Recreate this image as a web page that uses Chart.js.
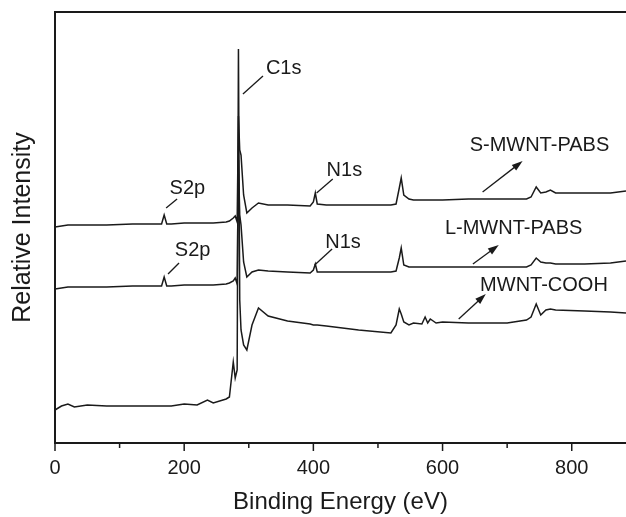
<!DOCTYPE html>
<html>
<head>
<meta charset="utf-8">
<title>XPS survey spectra</title>
<script src="https://cdn.jsdelivr.net/npm/chart.js@4.4.0/dist/chart.umd.min.js"></script>
<style>
  html, body { margin: 0; padding: 0; background: #fff; }
  canvas { display: block; }
</style>
</head>
<body>
<canvas id="xpsChart" width="626" height="517"></canvas>
<script>
// binding energy grid (eV) shared by the three spectra
const energies = [0, 10, 20, 30, 50, 80, 120, 160, 165, 169, 173, 180, 200, 220, 236, 245, 265, 270, 276, 279, 282,
  284, 286, 288, 292, 297, 305, 315, 330, 360, 395, 400, 403, 406, 420, 470, 520, 528, 533, 536, 540,
  548, 555, 568, 573, 577, 581, 590, 600, 640, 700, 730, 737, 745, 752, 760, 767, 775, 820, 860, 884];

// relative intensity (arbitrary units, curves already offset as in the figure)
const sMwntPabs = [229, 230, 231, 231, 231, 231, 232, 232, 232, 241, 232, 232, 233, 233, 233, 233, 234, 235, 238, 240, 234,
  340, 306, 301, 261, 243, 248, 253, 251, 251, 250, 254, 263, 252, 251, 251, 251, 252, 268, 278, 261,
  257, 256, 256, 256, 256, 256, 256, 256, 257, 257, 257, 259, 269, 263, 264, 266, 263, 263, 263, 265];

const lMwntPabs = [167, 168, 169, 169, 169, 169, 170, 170, 170, 179, 170, 170, 171, 171, 171, 171, 172, 173, 175, 178, 172,
  296, 241, 231, 194, 179, 184, 186, 185, 184, 183, 186, 192, 184, 184, 184, 184, 185, 198, 208, 191,
  189, 189, 189, 189, 189, 189, 189, 189, 189, 189, 189, 191, 198, 194, 193, 193, 192, 192, 193, 195];

const mwntCooh = [46, 50, 52, 49, 51, 50, 50, 50, 50, 50, 50, 50, 52, 51, 56, 53, 57, 59, 94, 78, 86,
  407, 156, 126, 111, 106, 131, 148, 140, 135, 132, 131, 131, 131, 130, 126, 123, 131, 147, 142, 134,
  131, 133, 132, 139, 133, 137, 133, 134, 133, 133, 136, 139, 152, 141, 146, 147, 146, 145, 144, 143];

const majorTicks = [0, 200, 400, 600, 800];
const minorTicks = [100, 300, 500, 700];

// peak labels: text centre and leader line, in data units
const peakLabels = [
  { text: 'C1s', at: [354, 388], from: [291, 362], to: [322, 380] },
  { text: 'S2p', at: [205, 268], from: [172, 248], to: [189, 257] },
  { text: 'S2p', at: [213, 206], from: [175, 182], to: [192, 193] },
  { text: 'N1s', at: [448, 286], from: [405, 263], to: [430, 277] },
  { text: 'N1s', at: [446, 214], from: [402, 191], to: [429, 207] }
];

// sample names with arrows pointing at them
const sampleLabels = [
  { text: 'S-MWNT-PABS', at: [750, 311], from: [662, 264], to: [724, 295] },
  { text: 'L-MWNT-PABS', at: [710, 228], from: [647, 192], to: [687, 211] },
  { text: 'MWNT-COOH', at: [757, 171], from: [625, 137], to: [667, 162] }
];

const ink = '#1a1a1a';
const fontFamily = '"Liberation Sans", Arial, Helvetica, sans-serif';

function toPoints(values) {
  return energies.map((e, i) => ({ x: e, y: values[i] }));
}

function lineSet(label, values) {
  return {
    label: label,
    data: toPoints(values),
    borderColor: ink,
    borderWidth: 1.5,
    pointRadius: 0,
    tension: 0,
    fill: false
  };
}

const decorPlugin = {
  id: 'decor',
  afterDraw(chart) {
    const { ctx, chartArea } = chart;
    const xs = chart.scales.x;
    const ys = chart.scales.y;
    const px = v => xs.getPixelForValue(v);
    const py = v => ys.getPixelForValue(v);

    ctx.save();
    ctx.strokeStyle = ink;
    ctx.fillStyle = ink;

    // top frame line (no right border, the figure is cut there)
    ctx.lineWidth = 2;
    ctx.beginPath();
    ctx.moveTo(chartArea.left - 1, chartArea.top);
    ctx.lineTo(chartArea.right, chartArea.top);
    ctx.stroke();

    // outward ticks on the energy axis
    ctx.lineWidth = 1.5;
    majorTicks.forEach(v => {
      ctx.beginPath();
      ctx.moveTo(px(v), chartArea.bottom);
      ctx.lineTo(px(v), chartArea.bottom + 8);
      ctx.stroke();
    });
    minorTicks.forEach(v => {
      ctx.beginPath();
      ctx.moveTo(px(v), chartArea.bottom);
      ctx.lineTo(px(v), chartArea.bottom + 5);
      ctx.stroke();
    });

    ctx.font = '20px ' + fontFamily;
    ctx.textAlign = 'center';
    ctx.textBaseline = 'middle';
    ctx.lineWidth = 1.3;

    peakLabels.forEach(l => {
      ctx.fillText(l.text, px(l.at[0]), py(l.at[1]));
      ctx.beginPath();
      ctx.moveTo(px(l.from[0]), py(l.from[1]));
      ctx.lineTo(px(l.to[0]), py(l.to[1]));
      ctx.stroke();
    });

    sampleLabels.forEach(l => {
      ctx.fillText(l.text, px(l.at[0]), py(l.at[1]));
      const x0 = px(l.from[0]), y0 = py(l.from[1]);
      const x1 = px(l.to[0]), y1 = py(l.to[1]);
      const ang = Math.atan2(y1 - y0, x1 - x0);
      const head = 11, half = 3.6;
      ctx.beginPath();
      ctx.moveTo(x0, y0);
      ctx.lineTo(x1 - Math.cos(ang) * head * 0.8, y1 - Math.sin(ang) * head * 0.8);
      ctx.stroke();
      ctx.beginPath();
      ctx.moveTo(x1, y1);
      ctx.lineTo(x1 - Math.cos(ang) * head - Math.sin(ang) * half, y1 - Math.sin(ang) * head + Math.cos(ang) * half);
      ctx.lineTo(x1 - Math.cos(ang) * head + Math.sin(ang) * half, y1 - Math.sin(ang) * head - Math.cos(ang) * half);
      ctx.closePath();
      ctx.fill();
    });

    ctx.restore();
  }
};

new Chart(document.getElementById('xpsChart'), {
  type: 'line',
  data: {
    datasets: [
      lineSet('S-MWNT-PABS', sMwntPabs),
      lineSet('L-MWNT-PABS', lMwntPabs),
      lineSet('MWNT-COOH', mwntCooh)
    ]
  },
  options: {
    responsive: false,
    animation: false,
    layout: { padding: { top: 12, right: 0, left: 0, bottom: 0 } },
    plugins: {
      legend: { display: false },
      tooltip: { enabled: false }
    },
    scales: {
      x: {
        type: 'linear',
        min: 0,
        max: 884,
        afterBuildTicks: scale => {
          scale.ticks = majorTicks.concat(minorTicks).sort((a, b) => a - b).map(v => ({ value: v }));
        },
        afterFit: scale => { scale.height = 74; },
        grid: { display: false, drawTicks: false },
        border: { display: true, color: ink, width: 2 },
        ticks: {
          padding: 13,
          color: ink,
          font: { family: fontFamily, size: 20 },
          maxRotation: 0,
          callback: v => (majorTicks.includes(v) ? String(v) : '')
        },
        title: {
          display: true,
          text: 'Binding Energy (eV)',
          color: ink,
          font: { family: fontFamily, size: 24 },
          padding: { top: 0, bottom: 0 }
        }
      },
      y: {
        min: 13,
        max: 444,
        afterFit: scale => { scale.width = 55; },
        grid: { display: false, drawTicks: false },
        border: { display: true, color: ink, width: 2 },
        ticks: { display: false },
        title: {
          display: true,
          text: 'Relative Intensity',
          color: ink,
          font: { family: fontFamily, size: 25 },
          padding: { top: 8, bottom: 0 }
        }
      }
    }
  },
  plugins: [decorPlugin]
});
</script>
</body>
</html>
